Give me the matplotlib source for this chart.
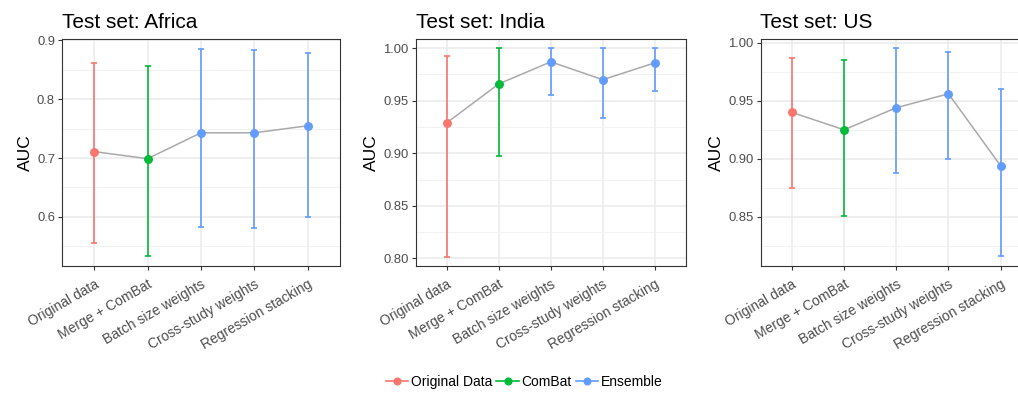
import matplotlib
matplotlib.use("Agg")
import matplotlib.pyplot as plt
from matplotlib.lines import Line2D
import numpy as np

plt.rcParams['font.family'] = ['Liberation Sans', 'DejaVu Sans']

methods = ["Original data", "Merge + ComBat", "Batch size weights",
           "Cross-study weights", "Regression stacking"]
groups = ["Original Data", "ComBat", "Ensemble", "Ensemble", "Ensemble"]
group_names = ["Original Data", "ComBat", "Ensemble"]
group_colors = {"Original Data": "#F8766D", "ComBat": "#00BA38", "Ensemble": "#619CFF"}

titles = ["Test set: Africa", "Test set: India", "Test set: US"]

africa_auc = [0.711, 0.699, 0.743, 0.743, 0.755]
africa_lo = [0.556, 0.533, 0.583, 0.581, 0.600]
africa_hi = [0.862, 0.856, 0.885, 0.884, 0.878]

india_auc = [0.929, 0.966, 0.987, 0.970, 0.986]
india_lo = [0.801, 0.897, 0.955, 0.934, 0.959]
india_hi = [0.993, 1.000, 1.000, 1.000, 1.000]

us_auc = [0.940, 0.925, 0.944, 0.956, 0.894]
us_lo = [0.875, 0.851, 0.888, 0.900, 0.816]
us_hi = [0.987, 0.985, 0.995, 0.992, 0.960]

panels = [
    (africa_auc, africa_lo, africa_hi, (0.5165, 0.903), [0.6, 0.7, 0.8, 0.9], "%.1f"),
    (india_auc, india_lo, india_hi, (0.7927, 1.009), [0.80, 0.85, 0.90, 0.95, 1.00], "%.2f"),
    (us_auc, us_lo, us_hi, (0.8078, 1.0034), [0.85, 0.90, 0.95, 1.00], "%.2f"),
]

W, H = 1018, 393
fig = plt.figure(figsize=(W / 100, H / 100), dpi=100)

lefts = [62, 415.6, 760.5]
rights = [340, 686, 1032]
top_px, bot_px = 38.7, 266

grid_col = "#EBEBEB"
for i, (auc, lo, hi, ylim, yt, fmt) in enumerate(panels):
    ax = fig.add_axes([lefts[i] / W, 1 - bot_px / H,
                       (rights[i] - lefts[i]) / W, (bot_px - top_px) / H])
    x = np.arange(1, len(methods) + 1)
    ax.plot(x, auc, color="#A9A9A9", lw=1.1, zorder=2)
    for xi, a, l, h, g in zip(x, auc, lo, hi, groups):
        c = group_colors[g]
        ax.errorbar([xi], [a], yerr=[[a - l], [h - a]], fmt='o', color=c,
                    ms=5.4, elinewidth=1.2, capsize=2.2, capthick=1.2, zorder=3)
    ax.set_xticks(x)
    ax.set_xticklabels(methods, rotation=30, ha='right', rotation_mode='anchor',
                       fontsize=10, color="#4D4D4D")
    ax.set_yticks(yt)
    ax.set_yticklabels([fmt % v for v in yt], fontsize=9.4, color="#4D4D4D")
    step = yt[1] - yt[0]
    minor = [v + step / 2 for v in [yt[0] - step] + yt]
    ax.set_yticks(minor, minor=True)
    ax.set_xlim(0.4, 5.6)
    ax.set_ylim(*ylim)
    ax.tick_params(axis='y', which='minor', length=0)
    ax.tick_params(which='major', length=3, width=0.8, color="#333333", pad=2)
    ax.tick_params(axis='x', which='major', pad=5)
    ax.grid(True, which='major', color=grid_col, lw=1.1, zorder=0)
    ax.grid(True, which='minor', axis='y', color="#F2F2F2", lw=0.7, zorder=0)
    ax.set_axisbelow(True)
    for s in ax.spines.values():
        s.set_color("#333333")
        s.set_linewidth(0.8)
    ax.set_ylabel("AUC", fontsize=12.5, color="black", labelpad=3)
    ax.set_title(titles[i], loc='left', fontsize=15, pad=8, color="black")

handles = [Line2D([0], [0], color=group_colors[g], marker='o', ms=4.8, lw=1.2)
           for g in group_names]
fig.legend(handles, group_names, loc='center', bbox_to_anchor=(0.515, 0.028),
           ncol=3, frameon=False, fontsize=10, handlelength=1.6,
           handletextpad=0.2, columnspacing=0.3)

fig.savefig("out.png", dpi=100)
